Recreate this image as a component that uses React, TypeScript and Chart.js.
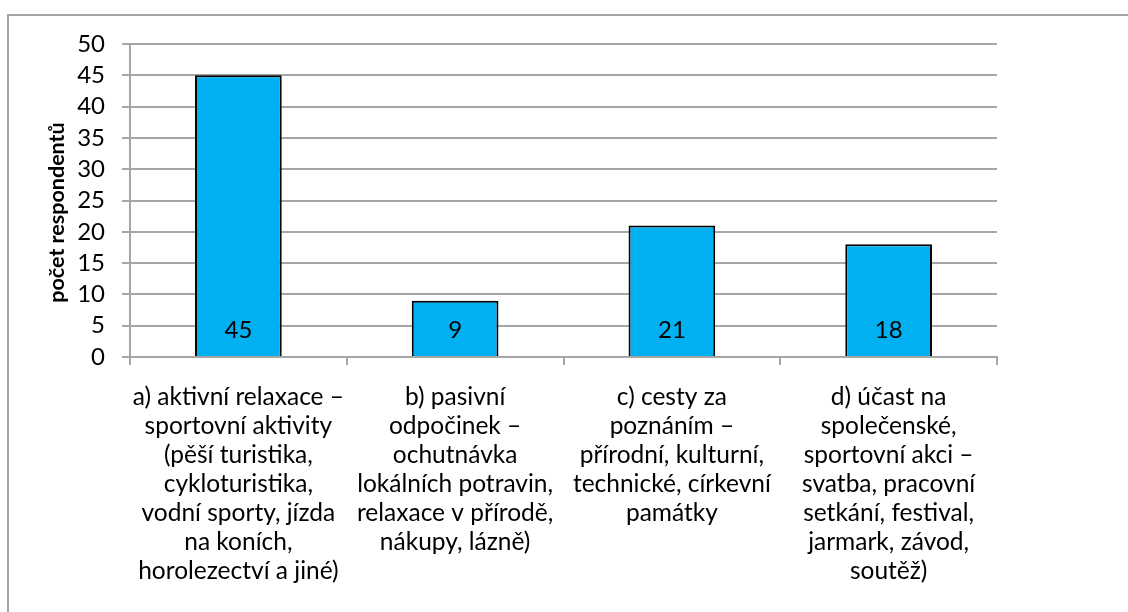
import React, { useEffect, useRef } from "react";
import { Chart, registerables } from "chart.js";

Chart.register(...registerables);

const categories: string[][] = [
  ["a) aktivní relaxace –", "sportovní aktivity", "(pěší turistika,", "cykloturistika,", "vodní sporty, jízda", "na koních,", "horolezectví a jiné)"],
  ["b) pasivní", "odpočinek –", "ochutnávka", "lokálních potravin,", "relaxace v přírodě,", "nákupy, lázně)"],
  ["c) cesty za", "poznáním –", "přírodní, kulturní,", "technické, církevní", "památky"],
  ["d) účast na", "společenské,", "sportovní akci –", "svatba, pracovní", "setkání, festival,", "jarmark, závod,", "soutěž)"],
];
const values: number[] = [45, 9, 21, 18];
const yMin = 0;
const yMax = 50;
const yStep = 5;
const yTitle = "počet respondentů";

const FONT = "Lato";
const GRID = "#a6a6a6";

const valueLabelPlugin = {
  id: "valueLabels",
  afterDatasetsDraw(chart: any) {
    const { ctx } = chart;
    const meta = chart.getDatasetMeta(0);
    const y0 = chart.scales.y.getPixelForValue(0);
    ctx.save();
    ctx.font = `24px ${FONT}`;
    ctx.fillStyle = "#000";
    ctx.textAlign = "center";
    ctx.textBaseline = "middle";
    meta.data.forEach((el: any, i: number) => {
      ctx.fillText(String(values[i]), el.x, y0 - 26.5);
    });
    ctx.restore();
  },
};

const yTitlePlugin = {
  id: "yTitle",
  afterDraw(chart: any) {
    const { ctx, chartArea } = chart;
    const cy = (chartArea.top + chartArea.bottom) / 2 + 12;
    ctx.save();
    ctx.translate(57, cy);
    ctx.rotate(-Math.PI / 2);
    ctx.font = `bold 21.5px ${FONT}`;
    ctx.fillStyle = "#000";
    ctx.textAlign = "center";
    ctx.textBaseline = "middle";
    ctx.fillText(yTitle, 0, 0);
    ctx.restore();
  },
};

export default function App() {
  const ref = useRef<HTMLCanvasElement | null>(null);
  useEffect(() => {
    if (!ref.current) return;
    const chart = new Chart(ref.current, {
      type: "bar",
      data: {
        labels: categories,
        datasets: [
          {
            data: values,
            backgroundColor: "#00B0F0",
            borderColor: "#000000",
            borderWidth: 2,
            barPercentage: 0.4,
            categoryPercentage: 1,
          },
        ],
      },
      options: {
        responsive: false,
        animation: false,
        devicePixelRatio: 1,
        layout: { padding: { left: 0, top: 44, right: 131, bottom: 0 } },
        plugins: { legend: { display: false }, tooltip: { enabled: false } },
        scales: {
          x: {
            grid: {
              display: true,
              drawOnChartArea: false,
              drawTicks: true,
              tickLength: 8,
              color: GRID,
              lineWidth: 2,
              offset: true,
            },
            border: { color: GRID, width: 2 },
            ticks: {
              color: "#000",
              font: { family: FONT, size: 24.5, lineHeight: 29 / 24.5 },
              padding: 18,
              maxRotation: 0,
              autoSkip: false,
            },
            afterFit: (s: any) => {
              s.height = 255;
            },
          },
          y: {
            min: yMin,
            max: yMax,
            ticks: {
              stepSize: yStep,
              padding: 17,
              color: "#000",
              autoSkip: false,
              font: { family: FONT, size: 24 },
            },
            grid: { color: GRID, lineWidth: 2, tickLength: 8, drawTicks: true },
            border: { color: GRID, width: 2 },
            afterFit: (s: any) => {
              s.width = 130;
            },
          },
        },
      },
      plugins: [valueLabelPlugin, yTitlePlugin],
    });
    return () => chart.destroy();
  }, []);

  return (
    <div
      style={{
        position: "fixed",
        left: 0,
        top: 0,
        width: 1128,
        height: 612,
        overflow: "hidden",
        background: "#fff",
      }}
    >
      <div
        style={{
          position: "absolute",
          left: 7,
          top: 14,
          width: 1300,
          height: 800,
          border: "2px solid #a6a6a6",
          boxSizing: "border-box",
        }}
      />
      <canvas
        ref={ref}
        width={1128}
        height={612}
        style={{ position: "absolute", left: 0, top: 0, width: 1128, height: 612 }}
      />
    </div>
  );
}
